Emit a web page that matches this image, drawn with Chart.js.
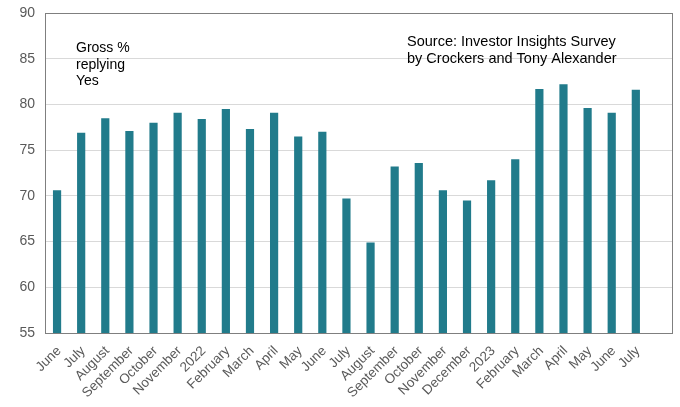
<!DOCTYPE html>
<html>
<head>
<meta charset="utf-8">
<script src="https://cdn.jsdelivr.net/npm/chart.js@4.4.1/dist/chart.umd.min.js"></script>
<style>
    html, body { margin: 0; padding: 0; background: #ffffff; }
    #wrap { width: 680px; height: 407px; position: relative; }
</style>
</head>
<body>
<div id="wrap"><canvas id="surveyChart"></canvas></div>
<script>
// Survey months, June 2021 to July 2023 (last slot left empty)
const months = ["June", "July", "August", "September", "October", "November", "2022",
    "February", "March", "April", "May", "June", "July", "August", "September",
    "October", "November", "December", "2023", "February", "March", "April", "May",
    "June", "July", ""];

// Gross % of investors replying yes
const grossYes = [70.6, 76.9, 78.5, 77.1, 78.0, 79.1, 78.4, 79.5, 77.3, 79.1, 76.5, 77.0,
    69.7, 64.9, 73.2, 73.6, 70.6, 69.5, 71.7, 74.0, 81.7, 82.2, 79.6, 79.1, 81.6, null];

const yTicks = [55, 60, 65, 70, 75, 80, 85, 90];

const noteLines = ["Gross %", "replying", "Yes"];
const sourceLines = ["Source: Investor Insights Survey", "by Crockers and Tony Alexander"];

document.addEventListener("DOMContentLoaded", function () {
    const ctx = document.getElementById("surveyChart").getContext("2d");

    // text boxes inside the plot + the frame around it
    const notesPlugin = {
        id: "notes",
        afterDraw(chart) {
            const c = chart.ctx;
            const area = chart.chartArea;
            c.save();
            c.strokeStyle = "#7f7f7f";
            c.lineWidth = 1;
            c.strokeRect(Math.round(area.left) + 0.5, Math.round(area.top) + 0.5,
                Math.round(area.right - area.left), Math.round(area.bottom - area.top));
            c.fillStyle = "#000000";
            c.font = "14px 'Liberation Sans', Arial, sans-serif";
            c.textBaseline = "alphabetic";
            noteLines.forEach(function (t, i) {
                c.fillText(t, 76, 52 + i * 16.5);
            });
            c.font = "14.5px 'Liberation Sans', Arial, sans-serif";
            sourceLines.forEach(function (t, i) {
                c.fillText(t, 407, 46 + i * 16.5);
            });
            c.restore();
        }
    };

    new Chart(ctx, {
        type: "bar",
        data: {
            labels: months,
            datasets: [{
                label: "Gross % replying Yes",
                data: grossYes,
                backgroundColor: "#217b8b",
                borderWidth: 0,
                barPercentage: 0.34,
                categoryPercentage: 1.0
            }]
        },
        options: {
            responsive: true,
            maintainAspectRatio: false,
            animation: false,
            layout: { padding: { top: 13, right: 8, left: 0, bottom: 0 } },
            scales: {
                x: {
                    grid: { display: false, drawTicks: false },
                    border: { color: "#595959" },
                    ticks: {
                        color: "#595959",
                        font: { family: "'Liberation Sans', Arial, sans-serif", size: 13.5 },
                        maxRotation: 45,
                        minRotation: 45,
                        autoSkip: false,
                        padding: 10,
                        labelOffset: 2
                    },
                    afterFit(scale) {
                        scale.height = 74;
                        scale.paddingLeft = 0;
                        scale.paddingRight = 0;
                    }
                },
                y: {
                    min: 55,
                    max: 90,
                    afterBuildTicks(scale) {
                        scale.ticks = yTicks.map(function (v) { return { value: v }; });
                    },
                    grid: { color: "#d9d9d9", drawTicks: false },
                    border: { color: "#595959" },
                    ticks: {
                        color: "#595959",
                        font: { family: "'Liberation Sans', Arial, sans-serif", size: 14 },
                        padding: 10
                    },
                    afterFit(scale) {
                        scale.width = 45;
                        scale.paddingTop = 0;
                        scale.paddingBottom = 0;
                    }
                }
            },
            plugins: {
                legend: { display: false },
                tooltip: { enabled: false }
            }
        },
        plugins: [notesPlugin]
    });
});
</script>
</body>
</html>
